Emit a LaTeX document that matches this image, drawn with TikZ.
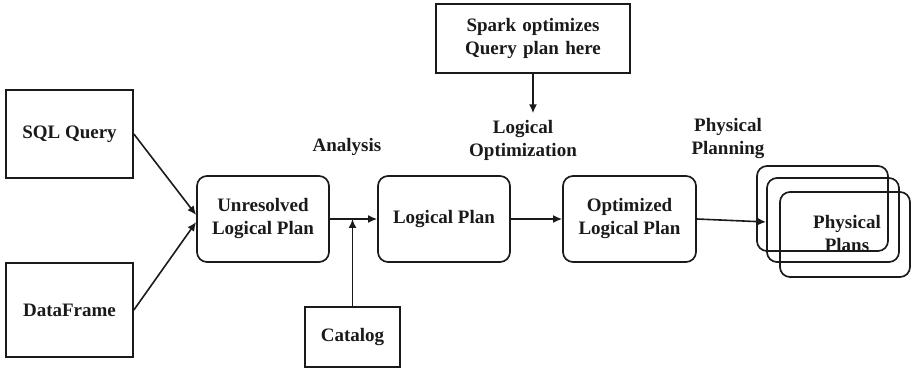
\documentclass[tikz,border=0pt]{standalone}
\usepackage{fontspec}
\setmainfont{Liberation Serif}
\usepackage{tikz}
\usetikzlibrary{positioning,arrows.meta,calc}
\definecolor{ink}{HTML}{1A1A1A}
\tikzset{
  every node/.style={font=\fontsize{19}{23}\selectfont\bfseries, text=ink, align=center},
  srcbox/.style={draw=ink, line width=1.7pt, inner sep=0pt},
  planbox/.style={draw=ink, line width=1.7pt, rounded corners=10pt, inner sep=0pt,
                  minimum width=132pt, minimum height=86pt},
  flow/.style={draw=ink, line width=1.6pt, -{Latex[length=9pt,width=8pt]}},
}

\begin{document}
\begin{tikzpicture}[x=1pt,y=1pt]
  \useasboundingbox (0,0) rectangle (911,371);

  % inputs
  \node[srcbox, minimum width=127pt, minimum height=88pt] (sql) at (69.5,237) {SQL Query};
  \node[srcbox, minimum width=127pt, minimum height=94pt] (df) at (69.5,61) {DataFrame};

  % plans
  \node[planbox] (unres) at (263,152) {Unresolved\\Logical Plan};
  \node[planbox] (logical) at (444,152) {Logical Plan};
  \node[planbox, minimum width=133pt] (optim) at (629.5,152) {Optimized\\Logical Plan};

  % catalog and optimizer note
  \node[srcbox, minimum width=95pt, minimum height=60pt] (catalog) at (352.5,34) {Catalog};
  \node[srcbox, minimum width=194pt, minimum height=69pt] (spark) at (533,332.5)
    {Spark\,\,optimizes\\Query\,\,plan\,\,here};

  % stacked physical plans
  \node[planbox, minimum width=131pt, minimum height=85pt] (phys1) at (822.5,162.5) {};
  \node[planbox, minimum height=84pt] (phys2) at (833,151) {};
  \node[planbox, minimum width=130pt, minimum height=85pt] (phys3) at (845,136.5) {};
  \node (physlbl) at (847,137) {Physical\\Plans};

  % stage labels
  \node (analysis) at (347,224) {Analysis};
  \node (logopt) at (523,231) {Logical\\Optimization};
  \node (physplan) at (728,232.5) {Physical\\Planning};

  % connectors
  \draw[flow] (sql.east) -- ([yshift=4pt]unres.west);
  \draw[flow] (df.east) -- ([yshift=-3pt]unres.west);
  \draw[flow] (unres.east) -- (logical.west);
  \coordinate (join) at (catalog.north |- unres.east);
  \draw[flow] (catalog.north) -- (join);
  \draw[flow] (logical.east) -- (optim.west);
  \draw[flow] (optim.east) -- ([yshift=-2pt]phys2.west);
  \coordinate (optin) at ([yshift=3pt]spark.south |- logopt.north);
  \draw[flow, line width=2.2pt] (spark.south) -- (optin);
\end{tikzpicture}
\end{document}
